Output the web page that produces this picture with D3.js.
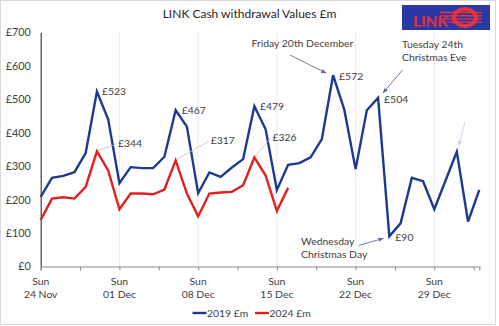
<!DOCTYPE html>
<html>
<head>
<meta charset="utf-8">
<script src="https://cdn.jsdelivr.net/npm/d3@7"></script>
<style>
  html, body { margin: 0; padding: 0; background: #fff; }
  svg { display: block; font-family: Lato, "Liberation Sans", sans-serif; }
</style>
</head>
<body>
<svg id="chart" width="499" height="326"></svg>
<script>
// Daily LINK cash withdrawal values (£m), starting Sunday 24 November
const startDate = "2019-11-24";
const values2019 = [208, 265, 271, 282, 339, 523, 440, 249, 297, 294, 294, 328, 467, 418,
                    219, 281, 268, 296, 321, 479, 410, 229, 304, 309, 326, 381, 572, 468,
                    291, 467, 504, 90, 129, 265, 255, 171, 257, 343, 134, 229];
const values2024 = [139, 203, 207, 203, 238, 344, 287, 171, 218, 218, 216, 230, 317, 218,
                    150, 218, 221, 223, 243, 326, 272, 166, 235];
const seriesNames = ["2019 £m", "2024 £m"];
const yTicks = [0, 100, 200, 300, 400, 500, 600, 700];
const weekDays = [0, 7, 14, 21, 28, 35];
const lastDay = 39;

const title = "LINK Cash withdrawal Values £m";
const blue = "#1c3a91", red = "#e3201c", textCol = "#404040";
const fs = 10.4;

const svg = d3.select("#chart");

// outer frame
svg.append("rect").attr("x", 0.5).attr("y", 0.5).attr("width", 495).attr("height", 324)
  .attr("fill", "#fff").attr("stroke", "#d9d9d9");

const parse = d3.utcParse("%Y-%m-%d");
const t0 = parse(startDate);
const dayDate = d => d3.utcDay.offset(t0, d);

const x = d3.scaleUtc().domain([t0, dayDate(lastDay)]).range([40.7, 479.3]);
const y = d3.scaleLinear().domain([0, 700]).range([266.5, 32.3]);

// vertical week gridlines
svg.append("g").selectAll("line").data(weekDays.slice(1)).join("line")
  .attr("x1", d => x(dayDate(d))).attr("x2", d => x(dayDate(d)))
  .attr("y1", y(700)).attr("y2", y(0))
  .attr("stroke", "#ebebeb").attr("stroke-width", 1);

// y axis
const yAxis = d3.axisLeft(y).tickValues(yTicks).tickSize(0).tickPadding(10)
  .tickFormat(d => "£" + d);
const gy = svg.append("g").attr("transform", `translate(${x(t0)},0)`).call(yAxis);
gy.select(".domain").attr("stroke", "#404040").attr("stroke-width", 1.2);
gy.selectAll("text").attr("font-size", 10.8).attr("fill", textCol)
  .attr("font-family", "Lato, sans-serif");

// x axis: ticks every half week, labels on Sundays
const tickDays = d3.range(0, lastDay + 0.01, 3.5);
const xAxis = d3.axisBottom(x)
  .tickValues(tickDays.map(d => new Date(t0.getTime() + d * 864e5)))
  .tickSize(4).tickFormat("");
const gx = svg.append("g").attr("transform", `translate(0,${y(0)})`).call(xAxis);
gx.select(".domain").attr("stroke", "#8c8c8c").attr("stroke-width", 1.2);
gx.selectAll(".tick line").attr("stroke", "#8c8c8c");

const fmtDay = d3.utcFormat("%d %b");
const lbl = svg.append("g").attr("font-size", fs).attr("fill", textCol).attr("text-anchor", "middle");
weekDays.forEach(d => {
  const xx = x(dayDate(d));
  lbl.append("text").attr("x", xx).attr("y", 284.5).text("Sun");
  lbl.append("text").attr("x", xx).attr("y", 298).text(fmtDay(dayDate(d)));
});

// series lines
const line = d3.line().x((v, i) => x(dayDate(i))).y(v => y(v));
svg.append("path").datum(values2019).attr("d", line)
  .attr("fill", "none").attr("stroke", blue).attr("stroke-width", 2.4).attr("stroke-linejoin", "miter");
svg.append("path").datum(values2024).attr("d", line)
  .attr("fill", "none").attr("stroke", red).attr("stroke-width", 2.4).attr("stroke-linejoin", "miter");

// value labels
const ann = svg.append("g").attr("font-size", fs).attr("fill", textCol);
const pt = (arr, d) => [x(dayDate(d)), y(arr[d])];

[[5, 5, 0], [12, 6, 0], [19, 5.5, 0], [26, 6, 1], [30, 6, 1], [31, 6, 1]].forEach(([d, dx, dy]) => {
  const [px, py] = pt(values2019, d);
  ann.append("text").attr("x", px + dx).attr("y", py + dy).attr("dy", "0.35em")
    .text("£" + values2019[d]);
});

// 2024 labels with leader lines
[[5, 21, -8], [12, 35, -20], [19, 18, -20]].forEach(([d, dx, dy]) => {
  const [px, py] = pt(values2024, d);
  ann.append("line").attr("x1", px + 1).attr("y1", py - 1).attr("x2", px + dx - 2).attr("y2", py + dy + 1)
    .attr("stroke", "#bfbfbf").attr("stroke-width", 0.8);
  ann.append("text").attr("x", px + dx).attr("y", py + dy).attr("dy", "0.35em")
    .text("£" + values2024[d]);
});

// callout arrows
const defs = svg.append("defs");
function marker(id, col) {
  defs.append("marker").attr("id", id).attr("viewBox", "0 0 10 10").attr("refX", 9).attr("refY", 5)
    .attr("markerWidth", 6).attr("markerHeight", 6).attr("orient", "auto")
    .append("path").attr("d", "M0,1 L10,5 L0,9 z").attr("fill", col);
}
marker("arr", "#5b6f9c");
marker("arrFaint", "#c9d3e8");

function arrow(x1, y1, x2, y2, id, col) {
  svg.append("line").attr("x1", x1).attr("y1", y1).attr("x2", x2).attr("y2", y2)
    .attr("stroke", col).attr("stroke-width", 0.9).attr("marker-end", `url(#${id})`);
}
{
  const [fx, fy] = pt(values2019, 26);
  arrow(290, 55, fx - 7, fy - 2, "arr", "#5b6f9c");
  const [ex, ey] = pt(values2019, 30);
  arrow(402.5, 70, ex + 5, ey - 5, "arr", "#5b6f9c");
  const [cx, cy] = pt(values2019, 31);
  arrow(358.5, 245.5, cx - 6, cy + 2, "arr", "#5b6f9c");
  const [nx, ny] = pt(values2019, 37);
  arrow(465, 121.5, nx + 2, ny - 6, "arrFaint", "#c9d3e8");
}

const callouts = [
  { lines: ["Friday 20th December"], x: 251.5, y: 43.5 },
  { lines: ["Tuesday 24th", "Christmas Eve"], x: 402, y: 44 },
  { lines: ["Wednesday", "Christmas Day"], x: 301, y: 241.5 }
];
callouts.forEach(c => {
  c.lines.forEach((s, i) => {
    ann.append("text").attr("x", c.x).attr("y", c.y + i * 13.3).attr("dy", "0.35em").text(s);
  });
});

// title
svg.append("text").attr("x", 249.5).attr("y", 14).attr("dy", "0.35em")
  .attr("text-anchor", "middle").attr("font-size", 12).attr("fill", "#262626").text(title);

// legend
const leg = svg.append("g").attr("font-size", fs).attr("fill", textCol);
[[192.5, blue, seriesNames[0]], [255, red, seriesNames[1]]].forEach(([lx, col, name]) => {
  leg.append("line").attr("x1", lx).attr("x2", lx + 14).attr("y1", 313).attr("y2", 313)
    .attr("stroke", col).attr("stroke-width", 2.4);
  leg.append("text").attr("x", lx + 14.5).attr("y", 313).attr("dy", "0.35em").text(name);
});

// LINK logo
const logo = svg.append("g");
const logoBlue = "#2b38a3", logoRed = "#e8333b";
logo.append("rect").attr("x", 402).attr("y", 5).attr("width", 88).attr("height", 25).attr("fill", logoBlue);
d3.range(4).forEach(i => {
  logo.append("line").attr("x1", 440).attr("x2", 482).attr("y1", 12.5 + i * 3.2).attr("y2", 12.5 + i * 3.2)
    .attr("stroke", logoRed).attr("stroke-width", 1.4);
});
logo.append("text").attr("x", 413).attr("y", 27).attr("font-size", 15.5).attr("font-weight", 900)
  .attr("fill", logoRed).attr("font-family", "Lato, sans-serif").attr("textLength", 35).text("LINK");
logo.append("ellipse").attr("cx", 465).attr("cy", 17.5).attr("rx", 11).attr("ry", 8.5).attr("fill", "none")
  .attr("stroke", logoRed).attr("stroke-width", 4);
d3.range(6).forEach(i => {
  logo.append("line").attr("x1", 410).attr("x2", 450).attr("y1", 15.5 + i * 2.2).attr("y2", 15.5 + i * 2.2)
    .attr("stroke", logoBlue).attr("stroke-width", 0.6).attr("opacity", 0.5);
});
</script>
</body>
</html>
